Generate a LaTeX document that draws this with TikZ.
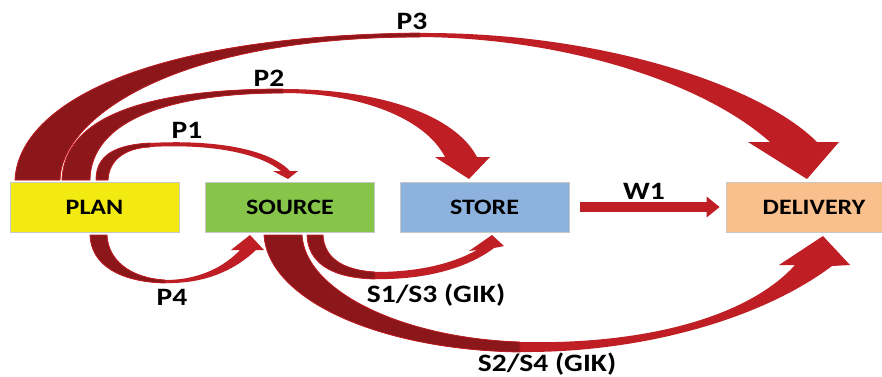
\documentclass[tikz,border=0pt]{standalone}
\usepackage{graphicx}
\usepackage{fontspec}
\setsansfont{Carlito}
\usetikzlibrary{arrows.meta}
\definecolor{ared}{RGB}{190,30,36}
\definecolor{adark}{RGB}{140,23,27}
\definecolor{cplan}{RGB}{243,234,18}
\definecolor{csource}{RGB}{134,197,74}
\definecolor{cstore}{RGB}{141,178,222}
\definecolor{cdel}{RGB}{249,191,140}
\newcommand{\hstretch}[1]{\scalebox{1.18}[1]{#1}}
\begin{document}
\begin{tikzpicture}[x=1pt,y=-1pt,
  box/.style={draw=black!22, line width=0.7pt, minimum width=169pt, minimum height=50pt, inner sep=0pt,
    font=\fontsize{22}{26}\selectfont\sffamily\bfseries},
  lbl/.style={font=\fontsize{25}{29}\selectfont\sffamily\bfseries, inner sep=0pt},
  band/.style={fill=ared},
  back/.style={fill=adark, draw=ared, line width=0.8pt, line join=round}]
\useasboundingbox (0,0) rectangle (882,376);
\clip (0,0) rectangle (882,376);

% boxes
\node[box, fill=cplan] (plan) at (94.5,207) {\hstretch{PLAN}};
\node[box, fill=csource] (source) at (290,207) {\hstretch{SOURCE}};
\node[box, fill=cstore] (store) at (484.5,207) {\hstretch{STORE}};
\node[box, fill=cdel, minimum width=176pt] (delivery) at (814,207) {\hstretch{DELIVERY}};

% P3
\fill[band] (15,180) .. controls (18,110) and (130,36) .. (420,33) .. controls (600,32) and (760,85) .. (817,142)
  -- (839,142) -- (807,179) -- (748,142) -- (770,142)
  .. controls (700,80) and (560,38) .. (420,37) .. controls (170,37) and (61,120) .. (60,180) -- cycle;
\filldraw[back] (15,180) .. controls (18,110) and (130,36) .. (420,33) -- (420,37)
  .. controls (170,37) and (61,120) .. (60,180) -- cycle;

% P2
\fill[band] (62,180) .. controls (64,115) and (150,89) .. (283,89) .. controls (380,89) and (455,115) .. (477,157)
  -- (490,157) -- (469,179) -- (435,157) -- (445,157)
  .. controls (425,118) and (360,93) .. (283,93) .. controls (170,93) and (91,120) .. (90,180) -- cycle;
\filldraw[back] (62,180) .. controls (64,115) and (150,89) .. (283,89) -- (283,93)
  .. controls (170,93) and (91,120) .. (90,180) -- cycle;

% P1
\fill[band] (96,180) .. controls (96,155) and (115,145) .. (150,143) .. controls (200,140) and (265,145) .. (290,171)
  -- (298,171) -- (288,179) -- (273,171) -- (281,171)
  .. controls (255,150) and (200,144) .. (150,147) .. controls (125,148) and (109,160) .. (108,180) -- cycle;
\filldraw[back] (96,180) .. controls (96,155) and (115,145) .. (150,143) -- (150,147)
  .. controls (125,148) and (109,160) .. (108,180) -- cycle;

% P4
\fill[band] (90,235) .. controls (91,265) and (120,282) .. (165,283) .. controls (205,284) and (235,270) .. (256,250)
  -- (264,250) -- (250,235) -- (231,250) -- (240,250)
  .. controls (225,266) and (200,280) .. (165,280) .. controls (130,278) and (108,260) .. (107,235) -- cycle;
\filldraw[back] (90,235) .. controls (91,265) and (120,282) .. (165,283) -- (165,280)
  .. controls (130,278) and (108,260) .. (107,235) -- cycle;

% S1/S3
\fill[band] (307,235) .. controls (308,262) and (330,278) .. (375,279) .. controls (420,280) and (465,270) .. (494,248)
  -- (504,246) -- (492,235) -- (469,251) -- (477,250)
  .. controls (450,265) and (415,272) .. (375,272) .. controls (340,270) and (324,256) .. (323,235) -- cycle;
\filldraw[back] (307,235) .. controls (308,262) and (330,278) .. (375,279) -- (375,272)
  .. controls (340,270) and (324,256) .. (323,235) -- cycle;

% S2/S4
\fill[band] (264,235) .. controls (268,300) and (380,350) .. (520,352) .. controls (640,353) and (760,320) .. (832,266)
  -- (850,265) -- (823,236) -- (779,265) -- (795,265)
  .. controls (750,315) and (650,345) .. (520,342) .. controls (400,338) and (305,290) .. (302,235) -- cycle;
\filldraw[back] (264,235) .. controls (268,300) and (380,350) .. (520,352) -- (520,342)
  .. controls (400,338) and (305,290) .. (302,235) -- cycle;

% W1
\draw[ared, line width=10pt, -{Triangle[width=20pt,length=13pt]}] ([xshift=11pt]store.east) -- ([xshift=-6pt]delivery.west);

% labels
\node[lbl] (lp3) at (412,21) {\hstretch{P3}};
\node[lbl] (lp2) at (269,78) {\hstretch{P2}};
\node[lbl] (lp1) at (187,130) {\hstretch{P1}};
\node[lbl] (lp4) at (172,297) {\hstretch{P4}};
\node[lbl] (ls1) at (436,295) {\hstretch{S1/S3 (GIK)}};
\node[lbl] (ls2) at (547,364) {\hstretch{S2/S4 (GIK)}};
\node[lbl] (lw1) at (644,191) {\hstretch{W1}};
\end{tikzpicture}
\end{document}
